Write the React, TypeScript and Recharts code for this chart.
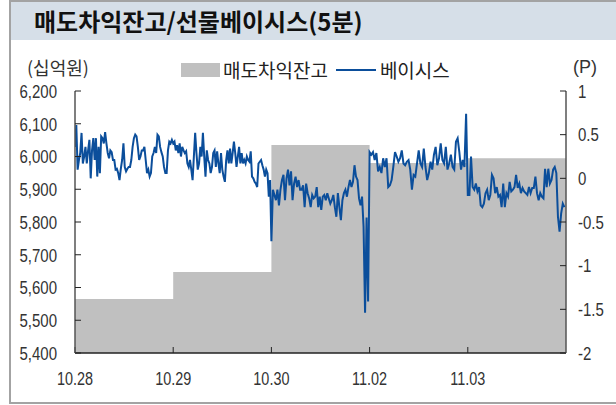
import { ComposedChart, Area, Line, XAxis, YAxis } from "recharts";

// 거래일
const categories = ["10.28", "10.29", "10.30", "11.02", "11.03"];

// 매도차익잔고 (십억원), 일별
const balance = [5565, 5647, 6035, 5980, 5995];

// 선물 베이시스 (P), 5분 간격
const basis1028 = [
  0.36, 0.61, 0.1, 0.21, 0.29, 0.52, 0.17, 0.25, 0.36, 0.17, 0.32, 0.44, 0.0,
  0.32, 0.46, 0.21, 0.46, 0.02, 0.36, 0.06, 0.48, 0.46, 0.4, 0.53, 0.4, 0.29,
  0.23, 0.32, 0.3, 0.21, 0.21, 0.1, 0.11, 0.06, -0.02, 0.11, 0.21, 0.4, 0.13,
  0.08, 0.11, 0.13, 0.13, 0.21, 0.36, 0.46, 0.5, 0.48, 0.36, 0.21, 0.25, 0.32,
  0.32, 0.36, 0.21, 0.06, 0.1, 0.02, 0.06, 0.25, 0.29, 0.36, 0.29, 0.5, 0.48,
  0.36, 0.3, 0.25, 0.13, 0.06, 0.06, 0.32, 0.42, 0.4, 0.44,
];
const basis1029 = [
  0.4, 0.42, 0.32, 0.38, 0.29, 0.4, 0.25, 0.36, 0.32, 0.29, 0.31, 0.17, 0.13,
  0.21, 0.1, -0.02, 0.25, 0.52, 0.29, 0.1, 0.17, 0.36, 0.25, 0.52, 0.25, 0.02,
  0.32, 0.21, 0.17, 0.06, 0.13, 0.29, 0.32, 0.13, 0.31, 0.17, 0.06, 0.29, 0.1,
  0.02, -0.04, 0.21, 0.32, 0.17, 0.34, 0.17, 0.29, 0.42, 0.29, 0.13, 0.25, 0.36,
  0.17, 0.29, 0.17, 0.21, 0.17, 0.25, 0.21, 0.19, 0.31, 0.02, 0.0, -0.04,
  -0.06, -0.1, 0.17, 0.19, 0.21, 0.15, 0.1, 0.02, 0.1, 0.06, -0.21, -0.02,
];
const basis1030 = [
  -0.72, -0.13, -0.19, -0.25, -0.13, -0.31, -0.13, -0.02, 0.04, -0.25, 0.0,
  0.1, -0.08, 0.08, -0.25, -0.06, 0.02, -0.1, -0.02, -0.13, -0.13, -0.08,
  -0.33, -0.06, -0.17, -0.23, -0.33, -0.19, -0.23, -0.21, -0.1, -0.33, -0.21,
  -0.36, -0.21, -0.19, -0.25, -0.17, -0.23, -0.29, -0.25, -0.19, -0.33, -0.44,
  -0.17, -0.33, -0.48, -0.25, -0.17, -0.13, -0.21, -0.1, -0.02, -0.1, -0.04,
  0.15, 0.02, -0.02, -0.23, -0.31, -0.21, -0.55, -1.54, -0.45, -1.41,
];
const basis1102 = [
  0.3, 0.27, 0.3, 0.21, 0.29, 0.08, 0.13, 0.06, 0.23, 0.13, 0.23, -0.1, -0.08,
  -0.02, 0.13, 0.3, 0.25, 0.19, 0.23, 0.32, 0.17, 0.15, 0.19, 0.21, 0.1,
  -0.13, 0.04, 0.02, 0.17, 0.32, 0.17, 0.13, 0.34, 0.13, -0.02, 0.06, 0.19,
  0.1, 0.27, 0.36, 0.15, 0.23, 0.4, 0.21, 0.17, 0.36, 0.1, 0.17, 0.27, 0.13,
  0.1, 0.42, 0.46, 0.3, 0.1, 0.21, 0.13, 0.74,
];
const basis1103 = [
  -0.19, -0.19, 0.25, -0.1, -0.13, -0.06, -0.15, -0.1, -0.31, -0.33, -0.29,
  -0.17, -0.13, -0.25, -0.19, 0.04, 0.0, -0.17, -0.1, -0.21, -0.19, -0.33,
  -0.06, -0.33, -0.17, -0.21, -0.04, -0.15, -0.13, -0.1, 0.04, -0.11, -0.06,
  -0.17, -0.11, -0.15, -0.17, -0.19, -0.1, -0.17, -0.11, -0.11, 0.02, -0.17,
  -0.25, -0.17, -0.21, -0.23, 0.11, -0.1, 0.11, -0.06, -0.02, 0.1, 0.13, 0.06,
  -0.44, -0.61, -0.4, -0.29, -0.33,
];

const basisByDay = [basis1028, basis1029, basis1030, basis1102, basis1103];

const leftTicks = [5400, 5500, 5600, 5700, 5800, 5900, 6000, 6100, 6200];
const rightTicks = [-2, -1.5, -1, -0.5, 0, 0.5, 1];

type Row = { x: number; basis?: number; balance: number };

const rows: Row[] = [];
basisByDay.forEach((day, d) => {
  day.forEach((v, i) => {
    rows.push({ x: d + i / day.length, basis: v, balance: balance[d] });
  });
});
// 마지막 거래일 잔고를 축 끝까지
rows.push({ x: categories.length, balance: balance[balance.length - 1] });

const numFont = "'Liberation Sans', Arial, sans-serif";
const korean = "'Noto Sans CJK KR', 'Noto Sans', sans-serif";

// 원본이 좁은 글꼴이라 가로로 눌러서 그림
function NarrowTick(props: any) {
  const { x, y, payload, textAnchor, fmt, dy, size, sx } = props;
  const label = fmt ? fmt(payload.value) : String(payload.value);
  return (
    <g transform={`translate(${x},${y}) scale(${sx},1)`}>
      <text
        x={0}
        y={0}
        dy={dy}
        textAnchor={textAnchor}
        fontFamily={numFont}
        fontSize={size}
        fill="#333"
      >
        {label}
      </text>
    </g>
  );
}

export default function App() {
  return (
    <div style={{ position: "absolute", left: 0, top: 0, width: 616, height: 405 }}>
      {/* 테두리 + 제목 */}
      <div
        style={{
          position: "absolute",
          left: 9,
          top: 0,
          width: 607,
          height: 404,
          boxSizing: "border-box",
          borderTop: "2px solid #a3a3a3",
          borderLeft: "2px solid #a3a3a3",
          borderBottom: "2px solid #a3a3a3",
        }}
      />
      <div
        style={{
          position: "absolute",
          left: 11,
          top: 2,
          width: 605,
          height: 38,
          background: "#d6dfe8",
        }}
      />
      <div
        style={{
          position: "absolute",
          left: 34,
          top: 6,
          fontFamily: korean,
          fontWeight: 700,
          fontSize: 24,
          color: "#111",
          lineHeight: "30px",
        }}
      >
        매도차익잔고/선물베이시스(5분)
      </div>

      {/* 단위 */}
      <div style={{ position: "absolute", left: 27, top: 56, fontFamily: korean, fontSize: 18, color: "#333", lineHeight: "22px" }}>
        (십억원)
      </div>
      <div style={{ position: "absolute", left: 573, top: 56, fontFamily: numFont, fontSize: 18, color: "#333", lineHeight: "22px" }}>
        (P)
      </div>

      {/* 범례 */}
      <div
        style={{
          position: "absolute",
          left: 181,
          top: 59,
          display: "flex",
          alignItems: "center",
          fontFamily: korean,
          fontSize: 19,
          color: "#222",
          lineHeight: "22px",
        }}
      >
        <span style={{ display: "inline-block", width: 39, height: 14, background: "#c0c0c0", marginRight: 3 }} />
        <span>매도차익잔고</span>
        <span style={{ display: "inline-block", width: 40, height: 2, background: "#0b4e9b", margin: "0 4px 0 8px" }} />
        <span>베이시스</span>
      </div>

      <div style={{ position: "absolute", left: 0, top: 0 }}>
        <ComposedChart width={616} height={405} data={rows} margin={{ top: 91, right: 10, bottom: 12, left: 15 }}>
          <XAxis
            dataKey="x"
            type="number"
            domain={[0, categories.length]}
            ticks={[0, 1, 2, 3, 4]}
            height={40}
            tickSize={-6}
            tickMargin={25}
            tick={<NarrowTick dy="0.71em" size={19} sx={0.76} fmt={(i: number) => categories[i] ?? ""} />}
            axisLine={{ stroke: "#222", strokeWidth: 1.5 }}
            tickLine={{ stroke: "#222" }}
            allowDataOverflow
          />
          <YAxis
            yAxisId="l"
            orientation="left"
            domain={[5400, 6200]}
            ticks={leftTicks}
            width={60}
            tickSize={-6}
            tickMargin={24}
            tick={<NarrowTick dy="0.355em" size={19} sx={0.79} fmt={(v: number) => v.toLocaleString("en-US")} />}
            axisLine={{ stroke: "#555", strokeWidth: 1.5 }}
            tickLine={{ stroke: "#222" }}
            allowDataOverflow
          />
          <YAxis
            yAxisId="r"
            orientation="right"
            domain={[-2, 1]}
            ticks={rightTicks}
            width={40}
            tickSize={-6}
            tickMargin={18}
            tick={<NarrowTick dy="0.355em" size={19} sx={0.79} />}
            axisLine={{ stroke: "#555", strokeWidth: 1.5 }}
            tickLine={{ stroke: "#222" }}
            allowDataOverflow
          />
          <Area
            yAxisId="l"
            dataKey="balance"
            type="stepAfter"
            fill="#c0c0c0"
            fillOpacity={1}
            stroke="none"
            isAnimationActive={false}
          />
          <Line
            yAxisId="r"
            dataKey="basis"
            type="linear"
            stroke="#0b4e9b"
            strokeWidth={2}
            dot={false}
            activeDot={false}
            isAnimationActive={false}
          />
        </ComposedChart>
      </div>
    </div>
  );
}
